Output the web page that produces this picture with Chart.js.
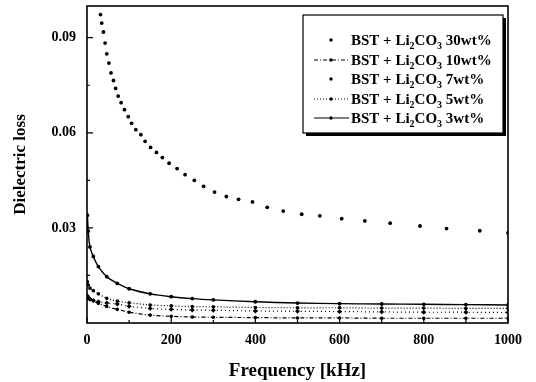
<!DOCTYPE html>
<html>
<head>
<meta charset="utf-8">
<script src="https://cdn.jsdelivr.net/npm/chart.js@4.4.1/dist/chart.umd.min.js"></script>
<style>
  html, body { margin: 0; padding: 0; background: #fff; }
</style>
</head>
<body>
<canvas id="myChart" width="536" height="382"></canvas>
<script>
// frequency in kHz, dielectric loss
const freq30 = [32,35,39,43,47,52,57,63,68,74,81,89,98,106,116,128,138,151,165,179,195,214,233,255,277,303,331,360,393,428,466,510,553,605,660,720,791,854,933,1000];
const loss30 = [0.0973,0.0946,0.0918,0.0883,0.0849,0.082,0.0789,0.0765,0.074,0.0716,0.0695,0.0673,0.0651,0.063,0.061,0.0594,0.0573,0.0554,0.0538,0.0522,0.0504,0.0487,0.0468,0.045,0.0431,0.0413,0.0399,0.039,0.0382,0.0365,0.0353,0.0343,0.0338,0.0329,0.0322,0.0315,0.0306,0.0298,0.0291,0.0284];

const freqLow = [1,3,7,15,27,47,72,100,150,200,250,300,400,500,600,700,800,900,1000];
const loss3  = [0.034,0.029,0.024,0.021,0.0178,0.0146,0.0125,0.0108,0.0092,0.0083,0.0077,0.0073,0.0067,0.0063,0.0061,0.006,0.0059,0.0058,0.0057];
const loss5  = [0.013,0.012,0.011,0.0102,0.0092,0.0078,0.0069,0.0064,0.0057,0.0054,0.0052,0.0051,0.0049,0.0048,0.0048,0.0047,0.0047,0.0046,0.0046];
const loss7  = [0.0085,0.008,0.0075,0.0071,0.0067,0.0063,0.006,0.0053,0.0046,0.0043,0.0041,0.004,0.0038,0.0037,0.0036,0.0035,0.0034,0.0034,0.0033];
const loss10 = [0.008,0.0078,0.0075,0.007,0.0062,0.0052,0.0043,0.0034,0.0025,0.0021,0.0019,0.0018,0.0017,0.0016,0.0016,0.0015,0.0015,0.0015,0.0015];

const xTicks = [0,200,400,600,800,1000];
const yTicks = [0.03,0.06,0.09];
const legendPct = ['30wt%','10wt%','7wt%','5wt%','3wt%'];

const FONT = '"Liberation Serif", "DejaVu Serif", serif';

function pts(xs, ys) { return xs.map((x, i) => ({x: x, y: ys[i]})); }

// box round the plot and inward ticks
const frame = {
  id: 'frame',
  afterDatasetsDraw(chart) {
    const {ctx, chartArea: a, scales: {x, y}} = chart;
    ctx.save();
    ctx.strokeStyle = '#000';
    ctx.lineWidth = 1.6;
    ctx.strokeRect(a.left, a.top, a.right - a.left, a.bottom - a.top);
    ctx.lineWidth = 1.2;
    ctx.beginPath();
    for (let v = 0; v <= 1000; v += 100) {
      const px = x.getPixelForValue(v);
      const len = v % 200 === 0 ? 6 : 3;
      ctx.moveTo(px, a.bottom); ctx.lineTo(px, a.bottom - len);
    }
    for (let v = 0.015; v < 0.1; v += 0.015) {
      const py = y.getPixelForValue(v);
      const major = yTicks.some(t => Math.abs(t - v) < 1e-6);
      ctx.moveTo(a.left, py); ctx.lineTo(a.left + (major ? 6 : 3), py);
    }
    ctx.stroke();
    ctx.restore();
  }
};

// boxed legend with drop shadow, Li2CO3 with real subscripts
const legendBox = {
  id: 'legendBox',
  afterDraw(chart) {
    const ctx = chart.ctx;
    const bx = 303, by = 15, bw = 200, bh = 118;
    ctx.save();
    ctx.fillStyle = '#000';
    ctx.fillRect(bx + 3, by + 3, bw, bh);
    ctx.fillStyle = '#fff';
    ctx.fillRect(bx, by, bw, bh);
    ctx.strokeStyle = '#000';
    ctx.lineWidth = 1.2;
    ctx.strokeRect(bx, by, bw, bh);

    const rows = [40, 60, 79, 99, 118];
    const styles = [
      {line: null},
      {line: [4, 2, 1, 2]},
      {line: null},
      {line: [1, 2]},
      {line: []}
    ];
    rows.forEach((ry, i) => {
      const st = styles[i];
      if (st.line) {
        ctx.setLineDash(st.line);
        ctx.lineWidth = 1;
        ctx.beginPath();
        ctx.moveTo(314, ry); ctx.lineTo(349, ry);
        ctx.stroke();
        ctx.setLineDash([]);
      }
      ctx.fillStyle = '#000';
      ctx.beginPath();
      ctx.arc(331, ry, 1.7, 0, Math.PI * 2);
      ctx.fill();

      let tx = 351;
      const parts = [['BST + Li', 0], ['2', 1], ['CO', 0], ['3', 1], [' ' + legendPct[i], 0]];
      ctx.textBaseline = 'alphabetic';
      for (const [t, sub] of parts) {
        ctx.font = sub ? 'bold 10px ' + FONT : 'bold 15px ' + FONT;
        ctx.fillText(t, tx, ry + 5 + (sub ? 4 : 0));
        tx += ctx.measureText(t).width;
      }
    });
    ctx.restore();
  }
};

const ctxEl = document.getElementById('myChart').getContext('2d');

new Chart(ctxEl, {
  type: 'scatter',
  data: {
    datasets: [
      {
        label: 'BST + Li2CO3 30wt%',
        data: pts(freq30, loss30),
        showLine: false,
        pointRadius: 1.9,
        backgroundColor: '#000',
        borderColor: '#000',
        borderWidth: 0
      },
      {
        label: 'BST + Li2CO3 10wt%',
        data: pts(freqLow, loss10),
        showLine: true,
        borderDash: [4, 2, 1, 2],
        borderWidth: 1.2,
        borderColor: '#000',
        backgroundColor: '#000',
        pointRadius: 1.2,
        tension: 0.3
      },
      {
        label: 'BST + Li2CO3 7wt%',
        data: pts(freqLow, loss7),
        showLine: true,
        borderDash: [1, 3],
        borderWidth: 1.2,
        borderColor: '#000',
        backgroundColor: '#000',
        pointRadius: 1.6,
        pointStyle: 'rectRot',
        tension: 0.3
      },
      {
        label: 'BST + Li2CO3 5wt%',
        data: pts(freqLow, loss5),
        showLine: true,
        borderDash: [1, 2],
        borderWidth: 1.2,
        borderColor: '#000',
        backgroundColor: '#000',
        pointRadius: 1.2,
        tension: 0.3
      },
      {
        label: 'BST + Li2CO3 3wt%',
        data: pts(freqLow, loss3),
        showLine: true,
        borderWidth: 1.4,
        borderColor: '#000',
        backgroundColor: '#000',
        pointRadius: 1.2,
        tension: 0.3
      }
    ]
  },
  options: {
    responsive: false,
    animation: false,
    layout: {
      padding: {top: 6, right: 28, left: 0, bottom: 0}
    },
    scales: {
      x: {
        type: 'linear',
        min: 0,
        max: 1000,
        afterBuildTicks: s => { s.ticks = xTicks.map(v => ({value: v})); },
        afterFit: s => { s.height = 59; s.paddingLeft = 0; s.paddingRight = 0; },
        grid: {display: false, drawTicks: false},
        border: {display: false},
        ticks: {
          color: '#000',
          padding: 9,
          font: {family: FONT, size: 14, weight: 'bold'},
          callback: v => String(v)
        },
        title: {
          display: true,
          text: 'Frequency [kHz]',
          color: '#000',
          padding: {top: 6, bottom: 0},
          font: {family: FONT, size: 19, weight: 'bold'}
        }
      },
      y: {
        min: 0,
        max: 0.1,
        afterBuildTicks: s => { s.ticks = yTicks.map(v => ({value: v})); },
        afterFit: s => { s.width = 87; s.paddingTop = 0; s.paddingBottom = 0; },
        grid: {display: false, drawTicks: false},
        border: {display: false},
        ticks: {
          color: '#000',
          padding: 11,
          font: {family: FONT, size: 14, weight: 'bold'},
          callback: v => v.toFixed(2)
        },
        title: {
          display: true,
          text: 'Dielectric loss',
          color: '#000',
          padding: {top: 10, bottom: 0},
          font: {family: FONT, size: 17, weight: 'bold'}
        }
      }
    },
    plugins: {
      legend: {display: false},
      tooltip: {enabled: false}
    }
  },
  plugins: [frame, legendBox]
});
</script>
</body>
</html>
